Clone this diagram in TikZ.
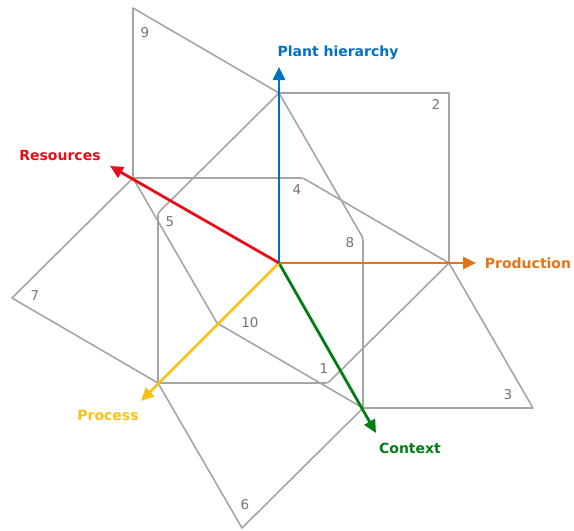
\documentclass[tikz,border=0pt]{standalone}
\usepackage{fontspec}
\setmainfont{DejaVu Sans}
\usetikzlibrary{arrows.meta}
\definecolor{cblue}{RGB}{0,112,192}
\definecolor{cred}{RGB}{230,15,25}
\definecolor{corange}{RGB}{230,115,20}
\definecolor{cyellow}{RGB}{250,192,20}
\definecolor{cgreen}{RGB}{0,125,20}
\definecolor{lgray}{RGB}{165,165,165}
\definecolor{ngray}{RGB}{115,115,115}
\begin{document}
\begin{tikzpicture}[x=1pt,y=-1pt,
  face/.style={draw=lgray, line width=1.6pt, line join=round},
  axis/.style={line width=2.8pt, -{Triangle[length=13pt,width=12pt]}},
  num/.style={text=ngray, font=\fontsize{13.5}{13.5}\selectfont},
  lab/.style={font=\fontsize{14}{14}\selectfont\bfseries}]
\useasboundingbox (0,0) rectangle (574,531);
% axis points
\coordinate (O) at (279,263);
\coordinate (P) at (279,93);
\coordinate (R) at (133,178);
\coordinate (Pr) at (449,263);
\coordinate (Pc) at (158,383);
\coordinate (C) at (363,408);
% fourth vertices
\coordinate (PR) at (133,8);
\coordinate (PPr) at (449,93);
\coordinate (RPr) at (303,178);
\coordinate (PPc) at (158,213);
\coordinate (PC) at (363,238);
\coordinate (RPc) at (12,298);
\coordinate (RC) at (217,323);
\coordinate (PcPr) at (328,383);
\coordinate (PrC) at (533,408);
\coordinate (PcC) at (242,528);
% faces
\draw[face] (R) -- (PR) -- (P);
\draw[face] (P) -- (PPr) -- (Pr);
\draw[face, rounded corners=2.5pt] (R) -- (RPr) -- (Pr);
\draw[face, rounded corners=2.5pt] (P) -- (PPc) -- (Pc);
\draw[face, rounded corners=2.5pt] (P) -- (PC) -- (C);
\draw[face] (R) -- (RPc) -- (Pc);
\draw[face] (R) -- (RC) -- (C);
\draw[face, rounded corners=2.5pt] (Pc) -- (PcPr) -- (Pr);
\draw[face] (Pr) -- (PrC) -- (C);
\draw[face] (Pc) -- (PcC) -- (C);
% numbers
\node[num] (n9) at (145,33) {9};
\node[num] (n2) at (436,104) {2};
\node[num] (n4) at (297,190) {4};
\node[num] (n5) at (170,222) {5};
\node[num] (n8) at (350,243) {8};
\node[num] (n10) at (250,323) {10};
\node[num] (n7) at (35,296) {7};
\node[num] (n1) at (324,369) {1};
\node[num] (n3) at (508,395) {3};
\node[num] (n6) at (245,505) {6};
% axes
\coordinate (tP) at (279,67);
\coordinate (tPr) at (476,263);
\coordinate (tR) at (110,166);
\coordinate (tPc) at (141,401);
\coordinate (tC) at (376,433);
\draw[axis, cgreen] (O) -- (tC);
\draw[axis, cyellow] (O) -- (tPc);
\draw[axis, corange] (O) -- (tPr);
\draw[axis, cred] (O) -- (tR);
\draw[axis, cblue] (O) -- (tP);
% labels
\node[lab, text=cblue] (lP) at (338,53) {Plant hierarchy};
\node[lab, text=cred] (lR) at (60,155) {Resources};
\node[lab, text=corange] (lPr) at (528,263) {Production};
\node[lab, text=cyellow] (lPc) at (108,415) {Process};
\node[lab, text=cgreen] (lC) at (410,448) {Context};
\end{tikzpicture}
\end{document}
